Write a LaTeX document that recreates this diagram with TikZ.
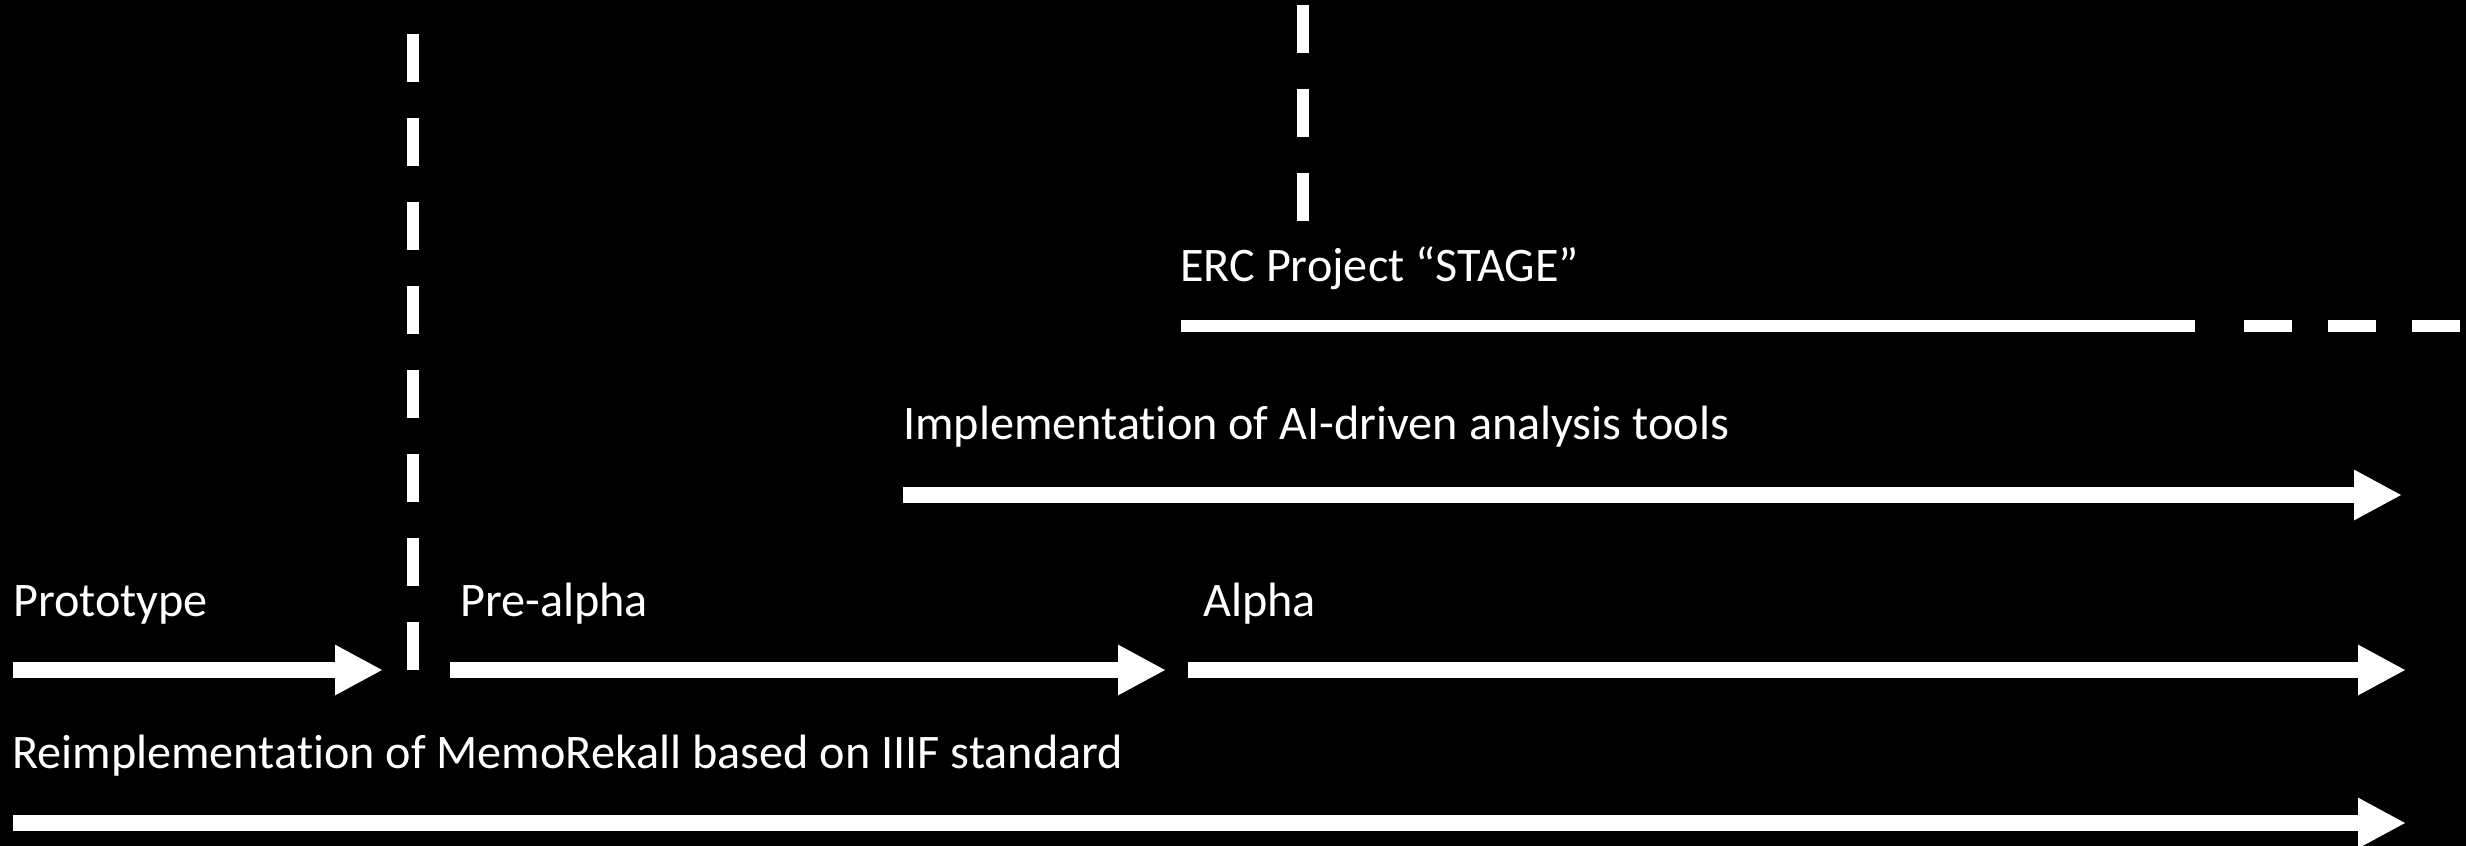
\documentclass[tikz,border=0pt]{standalone}
\usepackage{fontspec}
\setmainfont[Ligatures=NoCommon]{Carlito}
\usetikzlibrary{arrows.meta}

\begin{document}
\begin{tikzpicture}[x=1pt,y=-1pt,
	stagetext/.style={anchor=base west,inner sep=0pt,text=white,
		font=\fontsize{48.2}{56}\selectfont},
	phasearrow/.style={white,line width=15.5pt,-{Triangle[length=48pt,width=47pt]}},
	bar/.style={white,line width=12pt},
	dashbar/.style={bar,dash pattern=on 48pt off 36pt}]
	\useasboundingbox (0,0) rectangle (2466,846);
	\fill[black] (-10,-10) rectangle (2476,856);
	% ends of the arrows and bars
	\coordinate (proto-s) at (13,670);   \coordinate (proto-e) at (383,670);
	\coordinate (pre-s) at (450,670);    \coordinate (pre-e) at (1166,670);
	\coordinate (alpha-s) at (1188,670); \coordinate (alpha-e) at (2406,670);
	\coordinate (ai-s) at (903,495);     \coordinate (ai-e) at (2402,495);
	\coordinate (reimpl-s) at (13,823);  \coordinate (reimpl-e) at (2406,823);
	\coordinate (erc-s) at (1181,326);   \coordinate (erc-e) at (2195,326);
	\coordinate (ercmore-s) at (2244,326); \coordinate (ercmore-e) at (2466,326);
	\coordinate (cut1-s) at (413,34);    \coordinate (cut1-e) at (413,670);
	\coordinate (cut2-s) at (1303,5);    \coordinate (cut2-e) at (1303,221);
	% texts
	\node[stagetext] (proto) at (13,616) {Prototype};
	\node[stagetext] (pre) at (460,616) {Pre-alpha};
	\node[stagetext] (alpha) at (1203,616) {Alpha};
	\node[stagetext] (ai) at (903,439) {Implementation of AI-driven analysis tools};
	\node[stagetext] (erc) at (1180,281) {ERC Project “STAGE”};
	\node[stagetext] (reimpl) at (12,768) {Reimplementation of MemoRekall based on IIIF standard};
	% arrows
	\draw[phasearrow] (proto-s) -- (proto-e);
	\draw[phasearrow] (pre-s) -- (pre-e);
	\draw[phasearrow] (alpha-s) -- (alpha-e);
	\draw[phasearrow] (ai-s) -- (ai-e);
	\draw[phasearrow] (reimpl-s) -- (reimpl-e);
	% bars
	\draw[bar] (erc-s) -- (erc-e);
	\draw[dashbar] (ercmore-s) -- (ercmore-e);
	\draw[dashbar] (cut1-s) -- (cut1-e);
	\draw[dashbar] (cut2-s) -- (cut2-e);
\end{tikzpicture}
\end{document}
